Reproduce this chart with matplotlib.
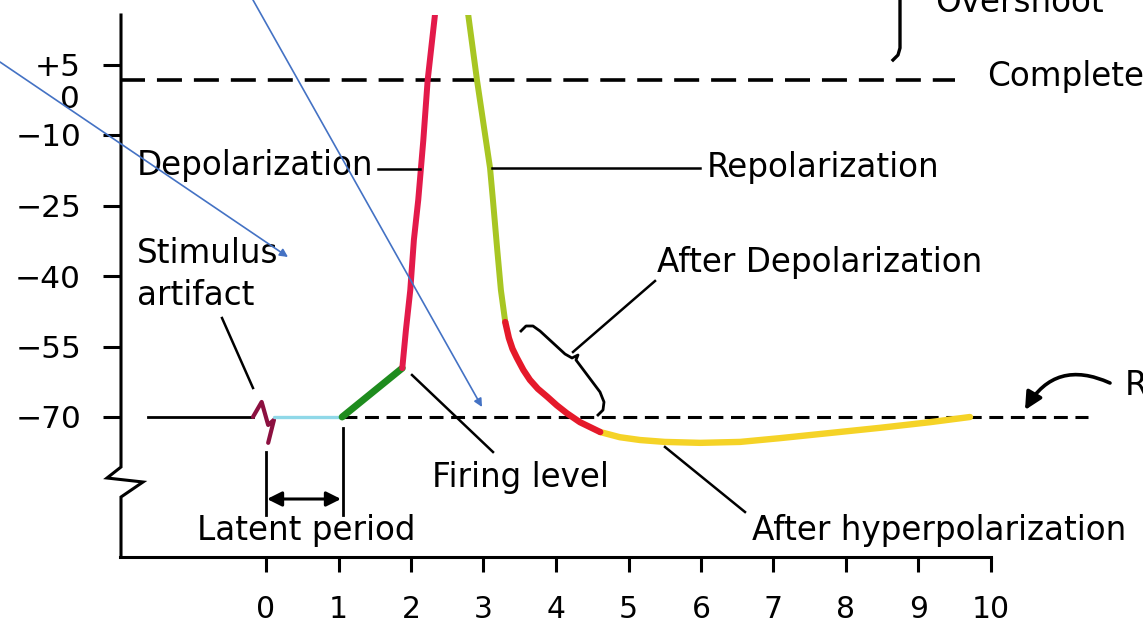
import matplotlib
matplotlib.use("Agg")
import matplotlib.pyplot as plt

plt.rcParams['font.family'] = ['DejaVu Sans']
plt.rcParams['lines.scale_dashes'] = False

# membrane potential trace, time in ms, voltage in mV
artifact_t = [-0.18, -0.06, 0.03, 0.11, 0.03]
artifact_v = [-70.0, -66.8, -71.7, -70.6, -75.5]
latent_t = [0.11, 1.05]
latent_v = [-70.0, -70.0]
prepot_t = [1.05, 1.88]
prepot_v = [-70.0, -59.6]
rise_t = [1.88, 1.93, 1.99, 2.04, 2.10, 2.17, 2.23, 2.33, 2.37]
rise_v = [-59.6, -51.5, -43.0, -32.3, -23.8, -11.1, 1.7, 15.5, 19.8]
fall_t = [2.72, 2.79, 2.91, 3.09, 3.13, 3.19, 3.24, 3.30]
fall_v = [19.8, 15.5, 1.7, -17.0, -23.8, -34.5, -43.0, -49.8]
afterdep_t = [3.30, 3.35, 3.40, 3.46, 3.55, 3.64, 3.75, 3.88, 4.01, 4.15, 4.33, 4.61]
afterdep_v = [-49.8, -53.2, -55.5, -57.4, -60.0, -62.1, -64.0, -65.7, -67.5, -69.2, -71.1, -73.2]
afterhyp_t = [4.61, 4.88, 5.16, 5.50, 5.99, 6.54, 7.09, 7.78, 8.47, 9.16, 9.71]
afterhyp_v = [-73.2, -74.3, -74.9, -75.3, -75.5, -75.3, -74.5, -73.4, -72.3, -71.1, -70.0]

resting_v = -70.0
overshoot_v = 1.7
resting_solid_t = [-1.63, -0.18]
resting_dash_t = [1.06, 11.34]
overshoot_t = [-2.01, 9.5]

x_ticks = [0, 1, 2, 3, 4, 5, 6, 7, 8, 9, 10]
x_labels = [str(t) for t in x_ticks]
y_ticks = [5, -10, -25, -40, -55, -70]
y_labels = ['+5', '\u221210', '\u221225', '\u221240', '\u221255', '\u221270']

# mapping from picture pixels to data units, only used for annotation layout
X0, XS = 266, 72.5
Y0, YS = 417, 4.7


def px(x, y):
    return (x - X0) / XS, -70 + (Y0 - y) / YS


def pline(ax, pts, **kw):
    xs, ys = zip(*[px(*p) for p in pts])
    ax.plot(xs, ys, clip_on=False, **kw)


fig = plt.figure(figsize=(11.43, 6.27), dpi=100)
ax = fig.add_axes([120 / 1143, 70 / 627, 1023 / 1143, 542 / 627])
ax.set_xlim(px(120, 0)[0], px(1143, 0)[0])
ax.set_ylim(px(0, 557)[1], px(0, 15)[1])

for s in ['top', 'right', 'left']:
    ax.spines[s].set_visible(False)
ax.spines['bottom'].set_linewidth(2.2)
ax.spines['bottom'].set_bounds(px(120, 0)[0], 10)

ax.set_xticks(x_ticks)
ax.set_xticklabels(x_labels)
ax.set_yticks(y_ticks)
ax.set_yticklabels(y_labels)
ax.tick_params(axis='x', length=11, width=2.2, pad=16, labelsize=21.5)
ax.tick_params(axis='y', length=12, width=2.2, pad=16, labelsize=22.5)

# left axis with break
pline(ax, [(121, 15), (121, 467), (107, 478), (143, 482), (121, 497), (121, 557)],
      color='black', lw=2.2, solid_joinstyle='miter')
ax.text(*px(80, 97), '0', fontsize=22.5, ha='right', va='center_baseline')

# reference lines
ax.plot(overshoot_t, [overshoot_v] * 2, color='black', lw=2.6, dashes=(18, 8.6))
ax.plot(resting_solid_t, [resting_v] * 2, color='black', lw=2.0)
ax.plot(resting_dash_t, [resting_v] * 2, color='black', lw=2.2, dashes=(10, 5.5))

# trace
kw = dict(solid_capstyle='round', solid_joinstyle='round')
ax.plot(artifact_t, artifact_v, color='#8c1040', lw=3.0, **kw)
ax.plot(latent_t, latent_v, color='#8fd8e8', lw=2.4, **kw)
ax.plot(prepot_t, prepot_v, color='#1e8c1e', lw=5.0, **kw)
ax.plot(rise_t, rise_v, color='#e31a4a', lw=4.3, **kw)
ax.plot(fall_t, fall_v, color='#a8c623', lw=4.3, **kw)
ax.plot(afterhyp_t, afterhyp_v, color='#f5d327', lw=4.6, **kw)
ax.plot(afterdep_t, afterdep_v, color='#e5192a', lw=4.6, **kw)

# labels and leader lines
fs = 23.5
ax.text(*px(137, 175), 'Depolarization', fontsize=fs, va='baseline')
pline(ax, [(378, 169), (420, 169)], color='black', lw=1.8)
ax.text(*px(707, 177), 'Repolarization', fontsize=fs, va='baseline')
pline(ax, [(492, 168), (700, 168)], color='black', lw=1.8)
ax.text(*px(137, 263), 'Stimulus', fontsize=fs, va='baseline')
ax.text(*px(137, 305), 'artifact', fontsize=fs, va='baseline')
pline(ax, [(222, 318), (253, 388)], color='black', lw=1.8)
ax.text(*px(657, 272), 'After Depolarization', fontsize=fs, va='baseline')
pline(ax, [(573, 352), (655, 281)], color='black', lw=1.8)
pline(ax, [(521, 331), (526, 326), (533, 326), (540, 331), (565, 354), (572, 358),
           (578, 355), (576, 360), (582, 368), (600, 392), (604, 402), (603, 410), (598, 415)],
      color='black', lw=2.0, solid_joinstyle='round')
ax.text(*px(432, 487), 'Firing level', fontsize=fs, va='baseline')
pline(ax, [(412, 375), (493, 452)], color='black', lw=1.8)
ax.text(*px(752, 540), 'After hyperpolarization', fontsize=fs, va='baseline')
pline(ax, [(665, 447), (745, 512)], color='black', lw=1.8)

ax.text(*px(197, 540), 'Latent period', fontsize=fs, va='baseline')
pline(ax, [(266, 452), (266, 515)], color='black', lw=2.0)
pline(ax, [(343, 428), (343, 515)], color='black', lw=2.0)
ax.annotate('', xy=px(341, 499), xytext=px(267, 499),
            arrowprops=dict(arrowstyle='<|-|>', color='black', lw=2.2,
                            mutation_scale=22, shrinkA=0, shrinkB=0))

ax.text(*px(987, 86), 'Complete', fontsize=fs, va='baseline')
ax.text(*px(935, 12), 'Overshoot', fontsize=fs, va='baseline')
pline(ax, [(900, 0), (900, 48), (898, 55), (893, 60)], color='black', lw=2.4)
ax.text(*px(1125, 395), 'Resting', fontsize=fs, va='baseline')
ax.annotate('', xy=px(1025, 410), xytext=px(1110, 383), annotation_clip=False,
            arrowprops=dict(arrowstyle='-|>', color='black', lw=2.6,
                            mutation_scale=26, shrinkA=0, shrinkB=0,
                            connectionstyle='arc3,rad=0.45'))

# blue pointer arrows drawn on top
for start, end in [((0, 62), (288, 257)), ((253, 0), (482, 407))]:
    ax.annotate('', xy=px(*end), xytext=px(*start), annotation_clip=False,
                arrowprops=dict(arrowstyle='-|>', color='#4472c4', lw=1.2,
                                mutation_scale=12, shrinkA=0, shrinkB=0))

fig.savefig('out.png', dpi=100, facecolor='white')
